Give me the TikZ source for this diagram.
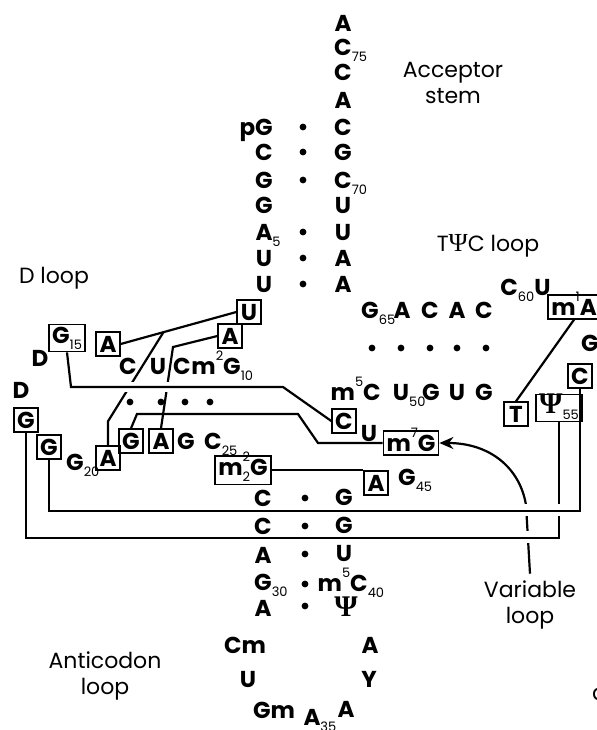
\documentclass[tikz,border=0pt]{standalone}
\usepackage{fontspec}
\setmainfont{Poppins}
\newfontfamily\psifont{Liberation Serif}
\usetikzlibrary{arrows.meta,calc}

\newcommand\sub[1]{\raisebox{-0.5ex}{\fontsize{6.5}{6.5}\selectfont\mdseries #1}}
\newcommand\rsub[1]{\rlap{\sub{#1}}}
\newcommand\supr[1]{\raisebox{1.05ex}{\fontsize{6.5}{6.5}\selectfont\mdseries #1}}
\newcommand\Ps{{\fontsize{15}{15}\psifont\bfseries Ψ}}

\tikzset{
  base/.style={font=\fontsize{11.5}{11.5}\selectfont\bfseries, inner sep=0pt, text height=8pt, text depth=0pt},
  nbox/.style={base, draw, line width=0.7pt, inner sep=1.6pt, minimum width=12pt, minimum height=12pt},
  lbl/.style={font=\fontsize{11}{13}\selectfont, align=center},
  bond/.style={line width=1.1pt},
  mask/.style={draw=white, line width=5pt},
}

\begin{document}
\begin{tikzpicture}[x=0.5pt, y=-0.5pt]
\useasboundingbox (0,0) rectangle (597,730);

% labels
\node[lbl] (acc) at (453,83) {Acceptor\\stem};
\node[lbl] (dlp) at (54,278) {D loop};
\node[lbl] (tlp) at (488,246) {T{\fontsize{13}{13}\psifont Ψ}C loop};
\node[lbl] (alp) at (105,676) {Anticodon\\loop};
\node[lbl] (vlp) at (530,605) {Variable\\loop};
\node[lbl, anchor=west] (acut) at (585,694) {a};

% acceptor stem
\foreach \t/\y [count=\i] in {A/23, C\rsub{75}/47, C/72, A/100, C/127, G/152,
    C\rsub{70}/180, U/205, U/232, A/258, A/284}
  \node[base] (r\i) at (343,\y) {\t};
\foreach \t/\y [count=\i] in {\llap{p}G/127, C/152, G/180, G/205, A\rsub{5}/232,
    U/258, U/284}
  \node[base] (l\i) at (264,\y) {\t};
\foreach \y in {127,152,180,232,258,284}
  \fill (303,\y) circle (1.7pt);

% D arm
\node[nbox, text depth=2.5pt] (g15) at (67,338) {G\sub{15}};
\node[base] (d16) at (40,358) {D};
\node[nbox] (a14) at (108,344) {A};
\node[nbox] (u8) at (249,312) {U};
\node[nbox] (a9) at (230,336) {A};
\node[base] (c13) at (128,366) {C};
\node[base] (u12) at (158,366) {U};
\node[base] (c11) at (182,366) {C};
\node[base, anchor=west] (g10) at (191,366) {m\supr{2}G\rsub{10}};
\foreach \x in {130,161,185,210}
  \fill (\x,402) circle (1.7pt);
\node[nbox] (g22) at (131,441) {G};
\node[nbox] (a23) at (161,441) {A};
\node[base] (g24) at (186,441) {G};
\node[base] (c25) at (213,441) {C\rsub{25}};
\node[nbox] (a21) at (108,458) {A};
\node[base] (g20) at (75,462) {G\rsub{20}};
\node[base] (d17) at (21,390) {D};
\node[nbox] (g18) at (26,420) {G};
\node[nbox] (g19) at (49,447) {G};
\node[nbox, text depth=3pt] (g26) at (243,470) {m\rlap{\supr{2}}\sub{2}G};

% anticodon stem and loop
\foreach \t/\y [count=\i] in {C/498, C/526, A/555, G\rsub{30}/582, A/608}
  \node[base] (al\i) at (263,\y) {\t};
\foreach \t/\y [count=\i] in {G/497, G/525, U/553}
  \node[base] (ar\i) at (344,\y) {\t};
\node[base] (ar4) at (359,583) {\llap{m\supr{5}}C\rsub{40}};
\node[base] (ar5) at (346,608) {\Ps};
\foreach \y in {498,526,554,584,606}
  \fill (305,\y) circle (1.7pt);
\node[base] (cm32) at (245,645) {Cm};
\node[base] (u33) at (248,679) {U};
\node[base] (gm34) at (274,710) {Gm};
\node[base] (a35) at (312,717) {A\rsub{35}};
\node[base] (a36) at (346,709) {A};
\node[base] (y37) at (369,679) {Y};
\node[base] (a38) at (370,645) {A};

% T arm
\foreach \t/\x [count=\i] in {G\rsub{65}/370, A/402, C/430, A/457, C/484}
  \node[base] (ta\i) at (\x,310) {\t};
\foreach \x in {372,401,430,457,486}
  \fill (\x,348) circle (1.7pt);
\foreach \t/\x [count=\i] in {\llap{m\supr{5}}C/372, U\rsub{50}/401, G/431, U/457, G/484}
  \node[base] (tb\i) at (\x,392) {\t};
\node[base, anchor=west] (c60) at (500,287) {C\sub{60}U};
\node[nbox] (m1a) at (574,307) {m\supr{1}A};
\node[base] (g57) at (590,343) {G};
\node[nbox] (c56) at (580,376) {C};
\node[nbox, text depth=2.5pt] (p55) at (559,408) {\Ps\sub{55}};
\node[nbox] (t54) at (516,414) {T};

% variable loop region
\node[nbox] (c48) at (344,421) {C};
\node[base] (u47) at (369,433) {U};
\node[nbox] (m7g) at (411,443) {m\supr{7}G};
\node[base] (g45) at (407,477) {G\rsub{45}};
\node[nbox] (a44) at (376,483) {A};

% tertiary links
\coordinate (j1) at ($(a14.east)!0.37!(u8.west)$);
\draw[bond] (a14.east) -- (u8.west);
\draw[bond] (a21.north) -- ++(0,-24) -- (j1);
\draw[bond] (a23.north) -- (173,347) -- (a9.west);
\path[mask] (116,387) -- (138,387);
\path[mask] (160,387) -- (177,387);
\draw[bond] (g15.south) -- (71,387) -- (283,387) -- (c48.west);
\draw[bond] (g22.north) -- (137,414) -- (298,414) -- (318,443) -- (m7g.west);
\draw[bond] (g26.east) -- (g26.east -| a44.west);
\draw[bond] (t54.north) -- (m1a.south);
\draw[bond, -{Stealth[length=7pt,width=6pt]}] (vlp.north) -- (526,505)
  .. controls (520,468) and (490,443) .. (m7g.east);
\path[mask, line width=6pt] (518,537) -- (538,537);
\draw[bond] (g18.south) -- ++(0,105) -| (p55.south);
\path[mask, line width=6pt] (517,510) -- (536,510);
\path[mask, line width=6pt] (551,510) -- (567,510);
\draw[bond] (g19.south) -- ++(0,51) -| (c56.south);
\end{tikzpicture}
\end{document}
